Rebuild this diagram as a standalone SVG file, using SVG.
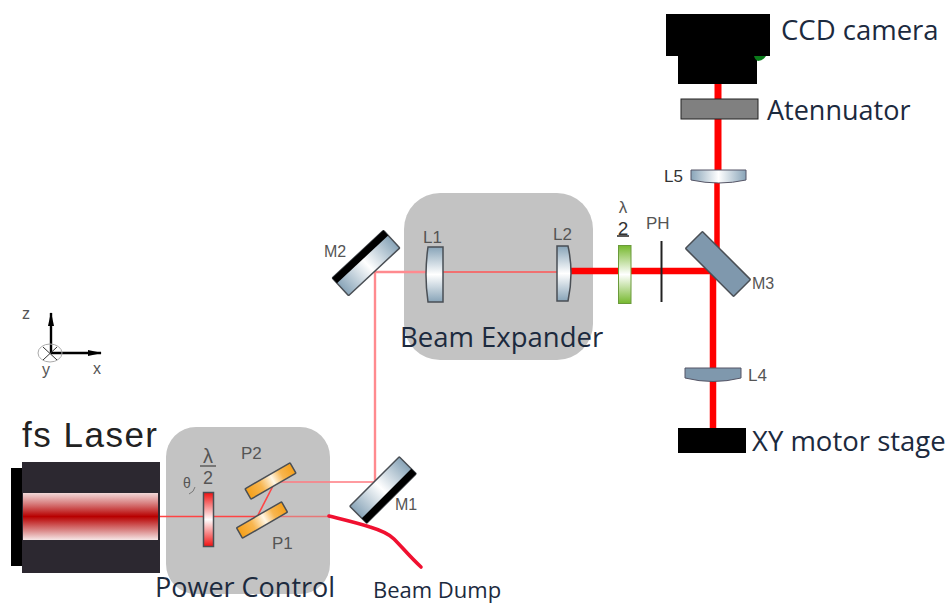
<svg xmlns="http://www.w3.org/2000/svg" width="951" height="604" viewBox="0 0 951 604">
<style>
.panel{fill:#c3c3c3}
.big{font-family:"Open Sans","Liberation Sans",sans-serif;fill:#1c2a3e}
.sm{font-family:"Liberation Sans",Arial,sans-serif;fill:#555}
.beam{fill:none;stroke:#ff0000}
.thin{stroke-width:1.6;stroke:#f44}
.pink{stroke-width:2.4;stroke:#ff8a8f}
.thick{stroke-width:6.500}
.opt{stroke:#4a4f55;stroke-width:1.500}
</style>
<defs>
<linearGradient id="laserBand" x1="0" y1="0" x2="0" y2="1">
<stop offset="0" stop-color="#f2d8d8"/><stop offset=".22" stop-color="#d88080"/><stop offset=".5" stop-color="#b80000"/><stop offset=".78" stop-color="#d88080"/><stop offset="1" stop-color="#f6e6e6"/>
</linearGradient>
<linearGradient id="redPlate" x1="0" y1="0" x2="0" y2="1">
<stop offset="0" stop-color="#f01010"/><stop offset=".5" stop-color="#ffffff"/><stop offset="1" stop-color="#f01010"/>
</linearGradient>
<linearGradient id="greenPlate" x1="0" y1="0" x2="0" y2="1">
<stop offset="0" stop-color="#76b82e"/><stop offset=".5" stop-color="#ffffff"/><stop offset="1" stop-color="#76b82e"/>
</linearGradient>
<linearGradient id="orange" x1="0" y1="0" x2="1" y2="0">
<stop offset="0" stop-color="#f5a01a"/><stop offset=".3" stop-color="#f8b650"/><stop offset=".55" stop-color="#fff6e4"/><stop offset=".75" stop-color="#f8b650"/><stop offset="1" stop-color="#f5a01a"/>
</linearGradient>
<linearGradient id="lensV" x1="0" y1="0" x2="0" y2="1">
<stop offset="0" stop-color="#88a4b8"/><stop offset=".5" stop-color="#ffffff"/><stop offset="1" stop-color="#88a4b8"/>
</linearGradient>
<linearGradient id="lensH" x1="0" y1="0" x2="1" y2="0">
<stop offset="0" stop-color="#88a4b8"/><stop offset=".5" stop-color="#ffffff"/><stop offset="1" stop-color="#88a4b8"/>
</linearGradient>
<marker id="ah" viewBox="0 0 14 6" refX="13" refY="3" markerWidth="14" markerHeight="6" orient="auto" markerUnits="userSpaceOnUse"><path d="M0 0L14 3L0 6Z" fill="#000"/></marker>
</defs>

<g id="power-control-panel"><rect class="panel" x="166" y="427" width="164" height="167" rx="30"/></g>
<g id="beam-expander-panel"><rect class="panel" x="404" y="193" width="189" height="167" rx="36"/></g>

<g id="connectors">
<path class="beam thin" d="M160 516.500H258"/>
<path class="beam thin" d="M258 516.500H330" stroke-opacity=".6"/>
<path class="beam thin" d="M258 515L275 482"/>
<path class="beam thin" d="M275 482H375" style="stroke:#ff7a80"/>
<path class="beam pink" d="M375 483V272"/>
<path class="beam pink" d="M375 272H430"/>
<path class="beam thin" d="M430 272H560" style="stroke:#f55"/>
<path class="beam thick" d="M565 271H713"/>
<path class="beam" stroke-width="7" d="M718 83V172"/>
<path class="beam" stroke-width="5.500" d="M717 172V250"/>
<path class="beam thick" d="M713 268V428"/>
<path class="beam" stroke-width="3.600" stroke-linecap="round" d="M329 516C345 520 358 523 370 527C380 530 388 533 394 539C402 547 410 557 421 567" style="stroke:#f01030"/>
</g>

<g id="axes">
<path d="M51 353V313" stroke="#000" stroke-width="2.400" marker-end="url(#ah)"/>
<path d="M51 353H101" stroke="#000" stroke-width="2.400" marker-end="url(#ah)"/>
<ellipse cx="50" cy="353" rx="12" ry="9" fill="none" stroke="#aaa" stroke-width="1"/>
<path d="M43 360L57 347M43 347L57 360" stroke="#333" stroke-width="1"/>
<text class="sm" x="22" y="319" font-size="16">z</text>
<text class="sm" x="42" y="375" font-size="16">y</text>
<text class="sm" x="93" y="374" font-size="16">x</text>
</g>

<g id="fs-laser">
<rect x="11" y="468" width="12" height="98" fill="#000"/>
<rect x="22" y="462" width="138" height="111" fill="#2c2830"/>
<rect x="23" y="493" width="135" height="47" fill="url(#laserBand)"/>
<text x="22" y="447" font-family="'Liberation Sans',Arial,sans-serif" font-size="35" letter-spacing="1.500" fill="#222">fs Laser</text>
</g>

<g id="hwp-red">
<rect x="203.500" y="492.500" width="10" height="54" fill="url(#redPlate)" class="opt"/>
<text class="sm" x="208" y="463" font-size="20" text-anchor="middle">λ</text>
<path d="M200 466H216" stroke="#555" stroke-width="1.400"/>
<text class="sm" x="208" y="484" font-size="18" text-anchor="middle">2</text>
<text class="sm" x="183" y="488" font-size="14">θ</text>
<path d="M189 494Q194 492 195 487" fill="none" stroke="#777" stroke-width="1"/>
</g>

<g id="p2">
<rect x="-26" y="-6" width="52" height="12" rx="1" transform="translate(270.500 481) rotate(-30)" fill="url(#orange)" class="opt"/>
<text class="sm" x="241" y="459" font-size="17">P2</text>
</g>
<g id="p1">
<rect x="-26" y="-6" width="52" height="12" rx="1" transform="translate(262 520) rotate(-30)" fill="url(#orange)" class="opt"/>
<text class="sm" x="272" y="549" font-size="17">P1</text>
</g>

<g id="m1">
<g transform="translate(383 490) rotate(-45)">
<rect x="-35" y="-12" width="70" height="24" rx="1" fill="url(#lensH)" class="opt"/>
<rect x="-35" y="5" width="70" height="7" fill="#000"/>
</g>
<text class="sm" x="395" y="510" font-size="16">M1</text>
</g>
<g id="m2">
<g transform="translate(366 263) rotate(-43)">
<rect x="-35" y="-12" width="70" height="24" rx="1" fill="url(#lensH)" class="opt"/>
<rect x="-35" y="-12" width="70" height="7" fill="#000"/>
</g>
<text class="sm" x="324" y="257" font-size="16">M2</text>
</g>

<g id="l1">
<path d="M428 247H443V302H428Q424 275 428 247Z" fill="url(#lensV)" class="opt"/>
<text class="sm" x="423" y="243" font-size="17">L1</text>
</g>
<g id="l2">
<path d="M557 246H568Q574 273 568 301H557Z" fill="url(#lensV)" class="opt"/>
<text class="sm" x="553" y="240" font-size="17">L2</text>
</g>

<g id="hwp-green">
<rect x="618.500" y="245.500" width="12.500" height="58" fill="url(#greenPlate)" stroke="#6a9a3a" stroke-width="1"/>
<text class="sm" x="623" y="213" font-size="17" text-anchor="middle">λ</text>
<text class="sm" x="623" y="235" font-size="19" text-anchor="middle" style="fill:#333">2</text>
<path d="M617 236H629" stroke="#222" stroke-width="1.500"/>
</g>

<g id="ph">
<path d="M661.500 241V302" stroke="#222" stroke-width="2"/>
<text class="sm" x="646" y="229" font-size="17">PH</text>
</g>

<g id="m3">
<rect x="-34" y="-12" width="68" height="24" rx="1" transform="translate(718 264) rotate(45)" fill="#7f98ad" class="opt"/>
<text class="sm" x="752" y="289" font-size="16">M3</text>
</g>

<g id="l5">
<path d="M691 170H746V180Q719 186 691 180Z" fill="url(#lensH)" stroke="#556" stroke-width="1"/>
<text class="sm" x="664" y="182" font-size="17" style="fill:#333">L5</text>
</g>

<g id="l4">
<path d="M685 368H741V378Q713 385 685 378Z" fill="#7f98ad" stroke="#556" stroke-width="1"/>
<text class="sm" x="748" y="381" font-size="17">L4</text>
</g>

<g id="ccd-camera">
<rect x="666" y="14" width="104" height="42" fill="#000"/>
<rect x="678" y="55" width="79" height="29" fill="#000"/>
<path d="M754 56H766Q763 61 758 61Q755 60 754 56Z" fill="#0a7a1a"/>
<text class="big" x="781" y="40" font-size="27.500">CCD camera</text>
</g>

<g id="attenuator">
<rect x="681" y="99" width="77" height="20" fill="#808080" stroke="#222" stroke-width="1"/>
<text class="big" x="767" y="120" font-size="27">Atennuator</text>
</g>

<g id="xy-stage">
<rect x="678" y="428" width="68" height="25" fill="#000"/>
<text class="big" x="752" y="451" font-size="27.500">XY motor stage</text>
</g>

<text class="big" x="400" y="347" font-size="27.500">Beam Expander</text>
<text class="big" x="155" y="597" font-size="27">Power Control</text>
<text class="big" x="373" y="598" font-size="22">Beam Dump</text>
</svg>
